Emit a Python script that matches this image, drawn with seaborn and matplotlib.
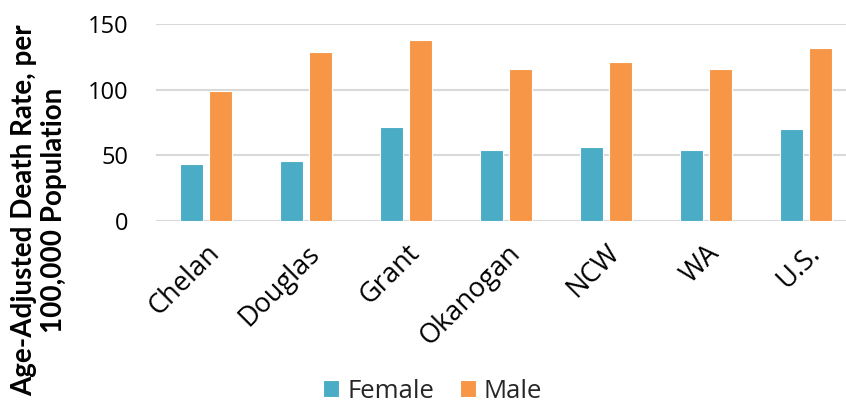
import matplotlib
matplotlib.use("Agg")
import matplotlib.pyplot as plt
import seaborn as sns
import pandas as pd

categories = ["Chelan", "Douglas", "Grant", "Okanogan", "NCW", "WA", "U.S."]
female = [43.0, 45.3, 71.7, 54.2, 56.0, 53.7, 70.0]
male = [99.2, 128.9, 138.1, 115.5, 121.3, 115.7, 131.5]
series = ["Female", "Male"]
yticks = [0, 50, 100, 150]

df = pd.DataFrame({
    "Region": categories * 2,
    "Sex": [series[0]] * len(categories) + [series[1]] * len(categories),
    "Rate": female + male,
})

sns.set_theme(style="white")
plt.rcParams["font.family"] = ["Open Sans", "DejaVu Sans"]

fig = plt.figure(figsize=(8.46, 4.04), dpi=100)
ax = fig.add_axes([156 / 846, 183.3 / 404, 700 / 846, 196.7 / 404])

sns.barplot(data=df, x="Region", y="Rate", hue="Sex", order=categories,
            hue_order=series, palette=["#4BACC6", "#F79646"], width=0.58,
            gap=0.2, saturation=1, edgecolor="#FFFFFF", linewidth=0.8,
            ax=ax, legend=True)

ax.set_ylim(0, 150)
ax.set_xlim(-0.5, 6.5)
ax.set_yticks(yticks)
ax.set_yticklabels([str(t) for t in yticks], fontsize=17, color="#000000")
ax.yaxis.grid(True, color="#D9D9D9", linewidth=1.5)
ax.set_axisbelow(True)
for s in ax.spines.values():
    s.set_visible(False)
ax.tick_params(axis="both", length=0)
ax.tick_params(axis="y", pad=20)
ax.tick_params(axis="x", pad=13.5)
ax.set_xlabel("")
ax.set_ylabel("")
fig.text(39 / 846, 1 - 210 / 404, "Age-Adjusted Death Rate, per\n100,000 Population",
         rotation=90, ha="center", va="center", fontsize=20, fontweight="bold",
         family=["Lato", "DejaVu Sans"], color="#000000", linespacing=1.15,
         multialignment="center")
for lbl in ax.get_xticklabels():
    lbl.set_rotation(45)
    lbl.set_ha("right")
    lbl.set_rotation_mode("anchor")
    lbl.set_fontsize(19.5)
    lbl.set_color("#000000")

handles, labels = ax.get_legend_handles_labels()
ax.legend_.remove()
fig.legend(handles, labels, loc="center", bbox_to_anchor=(432.5 / 846, 1 - 391 / 404),
           ncol=2, frameon=False, fontsize=18.5, handlelength=0.62, handleheight=0.62,
           handletextpad=0.3, columnspacing=1.0)

fig.savefig("out.png", dpi=100)
